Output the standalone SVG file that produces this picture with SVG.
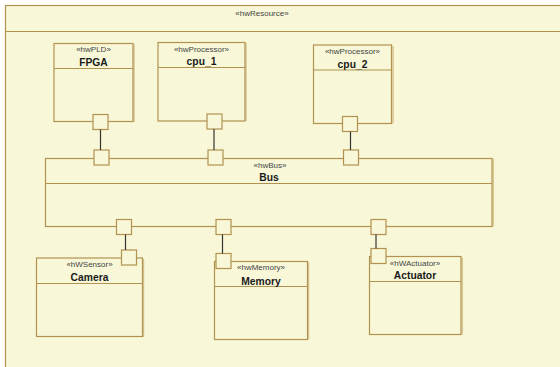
<svg xmlns="http://www.w3.org/2000/svg" width="560" height="367" viewBox="0 0 560 367">
<style>
.frame{fill:#F8F8D8;stroke:#B39250;stroke-width:1.2}
.box{fill:#F8F8D8;stroke:#B39250;stroke-width:1.2}
.shadow{fill:none;stroke:#D8C894;stroke-width:1.5}
.sep{stroke:#B39250;stroke-width:1.2}
.port{fill:#F8F8D8;stroke:#B39250;stroke-width:1.2}
.st{font-family:"Liberation Sans",Arial,sans-serif;font-size:8px;fill:#444;text-anchor:middle}
.nm{font-family:"Liberation Sans",Arial,sans-serif;font-size:10.3px;font-weight:bold;fill:#1a1a1a;text-anchor:middle}
.conn line{stroke:#333;stroke-width:1.2}
</style>
<rect x="0" y="0" width="560" height="367" fill="#ffffff"/>
<g id="hwResource">
<rect class="frame" x="5.5" y="5.5" width="560" height="370"/>
<line class="sep" x1="5.5" y1="31.5" x2="560" y2="31.5"/>
<text class="st" x="262" y="15.8">«hwResource»</text>
</g>
<g id="FPGA">
<line class="shadow" x1="134" y1="44" x2="134" y2="122"/>
<rect class="box" x="54" y="43.5" width="79" height="78"/>
<line class="sep" x1="54" y1="68.5" x2="133" y2="68.5"/>
<text class="st" x="93.5" y="52">«hwPLD»</text>
<text class="nm" x="93.5" y="66">FPGA</text>
<rect class="port" x="93" y="114.5" width="15" height="15"/>
</g>
<g id="cpu_1">
<line class="shadow" x1="246" y1="43" x2="246" y2="121"/>
<rect class="box" x="158" y="42.5" width="87" height="78.5"/>
<line class="sep" x1="158" y1="67.5" x2="245" y2="67.5"/>
<text class="st" x="201.5" y="51.6">«hwProcessor»</text>
<text class="nm" x="201.5" y="65">cpu_1</text>
<rect class="port" x="207" y="114" width="15" height="15"/>
</g>
<g id="cpu_2">
<line class="shadow" x1="393" y1="46" x2="393" y2="123.5"/>
<rect class="box" x="313.5" y="45" width="78" height="78.5"/>
<line class="sep" x1="313.5" y1="70" x2="391.5" y2="70"/>
<text class="st" x="352.5" y="53.5">«hwProcessor»</text>
<text class="nm" x="352.5" y="67.5">cpu_2</text>
<rect class="port" x="342.5" y="116.5" width="15" height="15"/>
</g>
<g id="Bus">
<line class="shadow" x1="493.3" y1="159" x2="493.3" y2="226.5"/>
<rect class="box" x="45.5" y="158.5" width="446.5" height="68"/>
<line class="sep" x1="45.5" y1="183.5" x2="492" y2="183.5"/>
<text class="st" x="270" y="167.5">«hwBus»</text>
<text class="nm" x="269" y="180.5">Bus</text>
<rect class="port" x="94" y="150" width="15" height="15"/>
<rect class="port" x="208" y="150" width="15" height="15"/>
<rect class="port" x="343.5" y="150" width="15" height="15"/>
<rect class="port" x="116.5" y="219.5" width="15" height="15"/>
<rect class="port" x="216" y="219.5" width="15" height="15"/>
<rect class="port" x="371" y="219.5" width="15" height="15"/>
</g>
<g id="Camera">
<line class="shadow" x1="143.5" y1="259" x2="143.5" y2="337"/>
<rect class="box" x="36.5" y="258" width="106" height="78.5"/>
<line class="sep" x1="36.5" y1="283.5" x2="142.5" y2="283.5"/>
<text class="st" x="89.5" y="266.8">«hWSensor»</text>
<text class="nm" x="89.5" y="280.8">Camera</text>
<rect class="port" x="121.5" y="250" width="15" height="15"/>
</g>
<g id="Memory">
<line class="shadow" x1="308.5" y1="262.5" x2="308.5" y2="339.5"/>
<rect class="box" x="214.5" y="261.5" width="93" height="78"/>
<line class="sep" x1="214.5" y1="286.5" x2="307.5" y2="286.5"/>
<text class="st" x="261" y="269.6">«hwMemory»</text>
<text class="nm" x="261" y="284.5">Memory</text>
<rect class="port" x="216" y="253.5" width="15" height="15"/>
</g>
<g id="Actuator">
<line class="shadow" x1="462.3" y1="257.5" x2="462.3" y2="334.5"/>
<rect class="box" x="369.5" y="256.5" width="91.5" height="78"/>
<line class="sep" x1="369.5" y1="281.5" x2="461" y2="281.5"/>
<text class="st" x="415" y="265.6">«hWActuator»</text>
<text class="nm" x="415" y="279">Actuator</text>
<rect class="port" x="371" y="248.5" width="15" height="15"/>
</g>
<g id="connectors" class="conn">
<line x1="100.5" y1="129.5" x2="100.5" y2="150"/>
<line x1="214" y1="129" x2="214" y2="150"/>
<line x1="350.5" y1="131.5" x2="350.5" y2="150"/>
<line x1="125.5" y1="234.5" x2="125.5" y2="250"/>
<line x1="222.5" y1="234.5" x2="222.5" y2="253.5"/>
<line x1="376" y1="234.5" x2="376" y2="248.5"/>
</g>
</svg>
